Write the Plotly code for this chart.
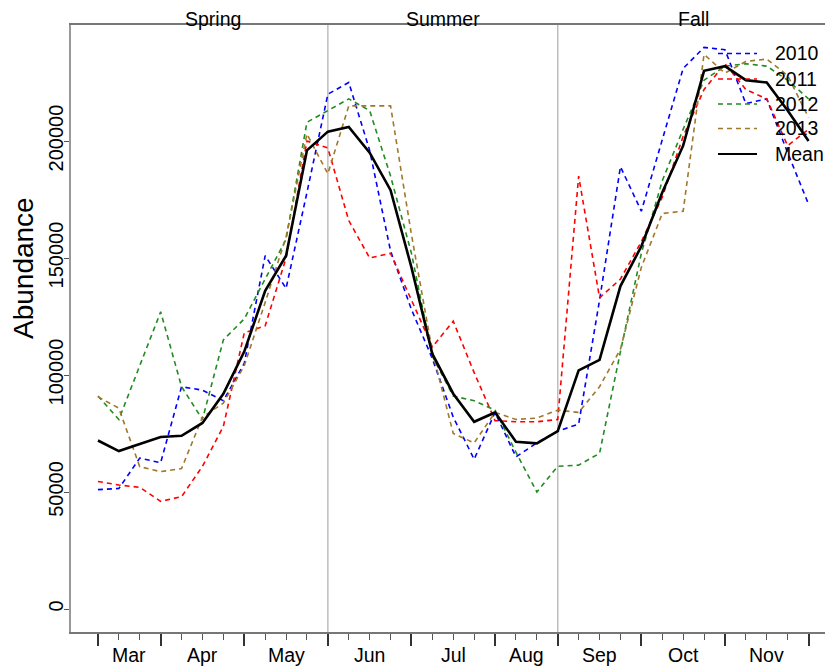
import plotly.graph_objects as go

# weekly abundance, March to November (week index 0..34)
weeks = list(range(35))
abund_2010 = [51000, 51500, 64500, 62500, 95000, 93500, 89000, 105000, 151000, 137000,
              178000, 220000, 225000, 196000, 153000, 128000, 107000, 82000, 64000, 84000,
              65000, 71000, 76000, 79000, 132000, 189000, 170000, 200000, 231000, 240000,
              239000, 216000, 218000, 195000, 173000]
abund_2011 = [54500, 53000, 52000, 46000, 48000, 61000, 78000, 118000, 121000, 150000,
              200000, 197000, 166000, 150000, 152000, 132000, 112000, 123000, 101000, 80500,
              80000, 80000, 81000, 185000, 133000, 141000, 157000, 176000, 202000, 222000,
              233000, 222000, 218000, 198000, 205000]
abund_2012 = [91000, 81000, 104000, 127000, 95000, 81000, 115000, 124000, 141000, 158000,
              208000, 213000, 218000, 213000, 185000, 152000, 108000, 91000, 89000, 85000,
              67000, 50000, 61000, 61500, 66500, 110000, 152000, 183000, 205000, 226000,
              232000, 233000, 232000, 226000, 218000]
abund_2013 = [90700, 85800, 60800, 58700, 60000, 82000, 88000, 104000, 131000, 159000,
              203000, 186000, 215000, 215000, 215000, 160000, 110000, 75000, 71000, 84000,
              81000, 81600, 85000, 84000, 95000, 111000, 146000, 169000, 170000, 237000,
              229000, 234000, 235000, 228000, 210000]
abund_mean = [72000, 67500, 70500, 73500, 74000, 79500, 92000, 110000, 136000, 151000,
              196000, 204000, 206000, 195000, 179000, 146000, 109000, 92000, 80000, 84000,
              71500, 70800, 76000, 102000, 106500, 138000, 155000, 178000, 198000, 230000,
              232000, 226000, 225000, 213000, 200000]

month_names = ["Mar", "Apr", "May", "Jun", "Jul", "Aug", "Sep", "Oct", "Nov"]
month_edges = [0, 3, 7, 11, 15, 19, 22, 26, 30, 34]
seasons = ["Spring", "Summer", "Fall"]
season_mid = [5.5, 16.5, 28.5]
season_breaks = [11, 22]
y_ticks = [0, 50000, 100000, 150000, 200000]

series = [
    ("2010", abund_2010, "#0000ff", "dash"),
    ("2011", abund_2011, "#ff0000", "dash"),
    ("2012", abund_2012, "#228b22", "dash"),
    ("2013", abund_2013, "#a0782c", "dash"),
    ("Mean", abund_mean, "#000000", "solid"),
]

FONT = "Liberation Sans, Arial, sans-serif"
OFF = 8  # page body margin, the figure is drawn 8px in from the corner
W, H = 833 - OFF, 670 - OFF
ML, MR, MT = 71 - OFF, 0, 25 - OFF
MB = H - (632 - OFF)
PW, PH = W - ML - MR, H - MT - MB


# positions below are given in window pixels
def px_x(px):
    return (px - OFF - ML) / PW


def px_y(py):
    return (H - MB - (py - OFF)) / PH


fig = go.Figure()
for name, vals, col, dash in series:
    fig.add_trace(go.Scatter(
        x=weeks, y=vals, mode="lines", name=name, showlegend=False,
        line=dict(color=col, width=2.6 if dash == "solid" else 1.6,
                  dash="5px,4px" if dash == "dash" else "solid")))

shapes = []
for b in season_breaks:
    shapes.append(dict(type="line", xref="x", yref="paper", x0=b, x1=b, y0=0, y1=1,
                       line=dict(color="#bdbdbd", width=1.5), layer="below"))

annotations = []
for s, m in zip(seasons, season_mid):
    annotations.append(dict(text=s, x=m, xref="x", y=px_y(18.5), yref="paper",
                            xanchor="center", yanchor="middle", showarrow=False,
                            font=dict(size=19.5, family=FONT, color="black")))
for i, mn in enumerate(month_names):
    mid = (month_edges[i] + month_edges[i + 1]) / 2
    annotations.append(dict(text=mn, x=mid, xref="x", y=px_y(655), yref="paper",
                            xanchor="center", yanchor="middle", showarrow=False,
                            font=dict(size=19.5, family=FONT, color="black")))
annotations.append(dict(text="Abundance", x=px_x(23), xref="paper", y=px_y(268), yref="paper",
                        xanchor="center", yanchor="middle", textangle=-90, showarrow=False,
                        font=dict(size=28, family=FONT, color="black")))

# legend drawn by hand, no box
leg_rows = [53.5, 79, 104, 128.5, 154]
for (name, vals, col, dash), ry_px in zip(series, leg_rows):
    ry = px_y(ry_px)
    shapes.append(dict(type="line", xref="paper", yref="paper",
                       x0=px_x(718), x1=px_x(757), y0=ry, y1=ry,
                       line=dict(color=col, width=2.2 if dash == "solid" else 1.6,
                                 dash="5px,4px" if dash == "dash" else "solid")))
    annotations.append(dict(text=name, x=px_x(773), xref="paper", y=ry, yref="paper",
                            xanchor="left", yanchor="middle", showarrow=False,
                            font=dict(size=19.5, family=FONT, color="black")))

fig.update_layout(
    width=W, height=H, margin=dict(l=ML, r=MR, t=MT, b=MB),
    plot_bgcolor="white", paper_bgcolor="white",
    font=dict(family=FONT, color="black"),
    shapes=shapes, annotations=annotations,
    xaxis=dict(range=[-1.29, 35.17], tickvals=month_edges, ticktext=[""] * len(month_edges),
               ticks="outside", ticklen=12, tickwidth=1.5, tickcolor="#333",
               showline=True, linecolor="#777", linewidth=1.5, mirror=True,
               showgrid=False, zeroline=False,
               minor=dict(tickmode="array", tickvals=[w for w in weeks if w not in month_edges],
                          ticks="outside", ticklen=6, tickwidth=1, tickcolor="#555")),
    yaxis=dict(range=[-9829, 249573], tickvals=y_ticks, ticktext=[str(v) for v in y_ticks],
               tickangle=-90, ticks="outside", ticklen=5, tickcolor="#555",
               ticklabelstandoff=-7,
               tickfont=dict(size=20, family=FONT, color="black"),
               showline=True, linecolor="#999", linewidth=1.5,
               showgrid=False, zeroline=False),
)

fig.write_html("out.html")
